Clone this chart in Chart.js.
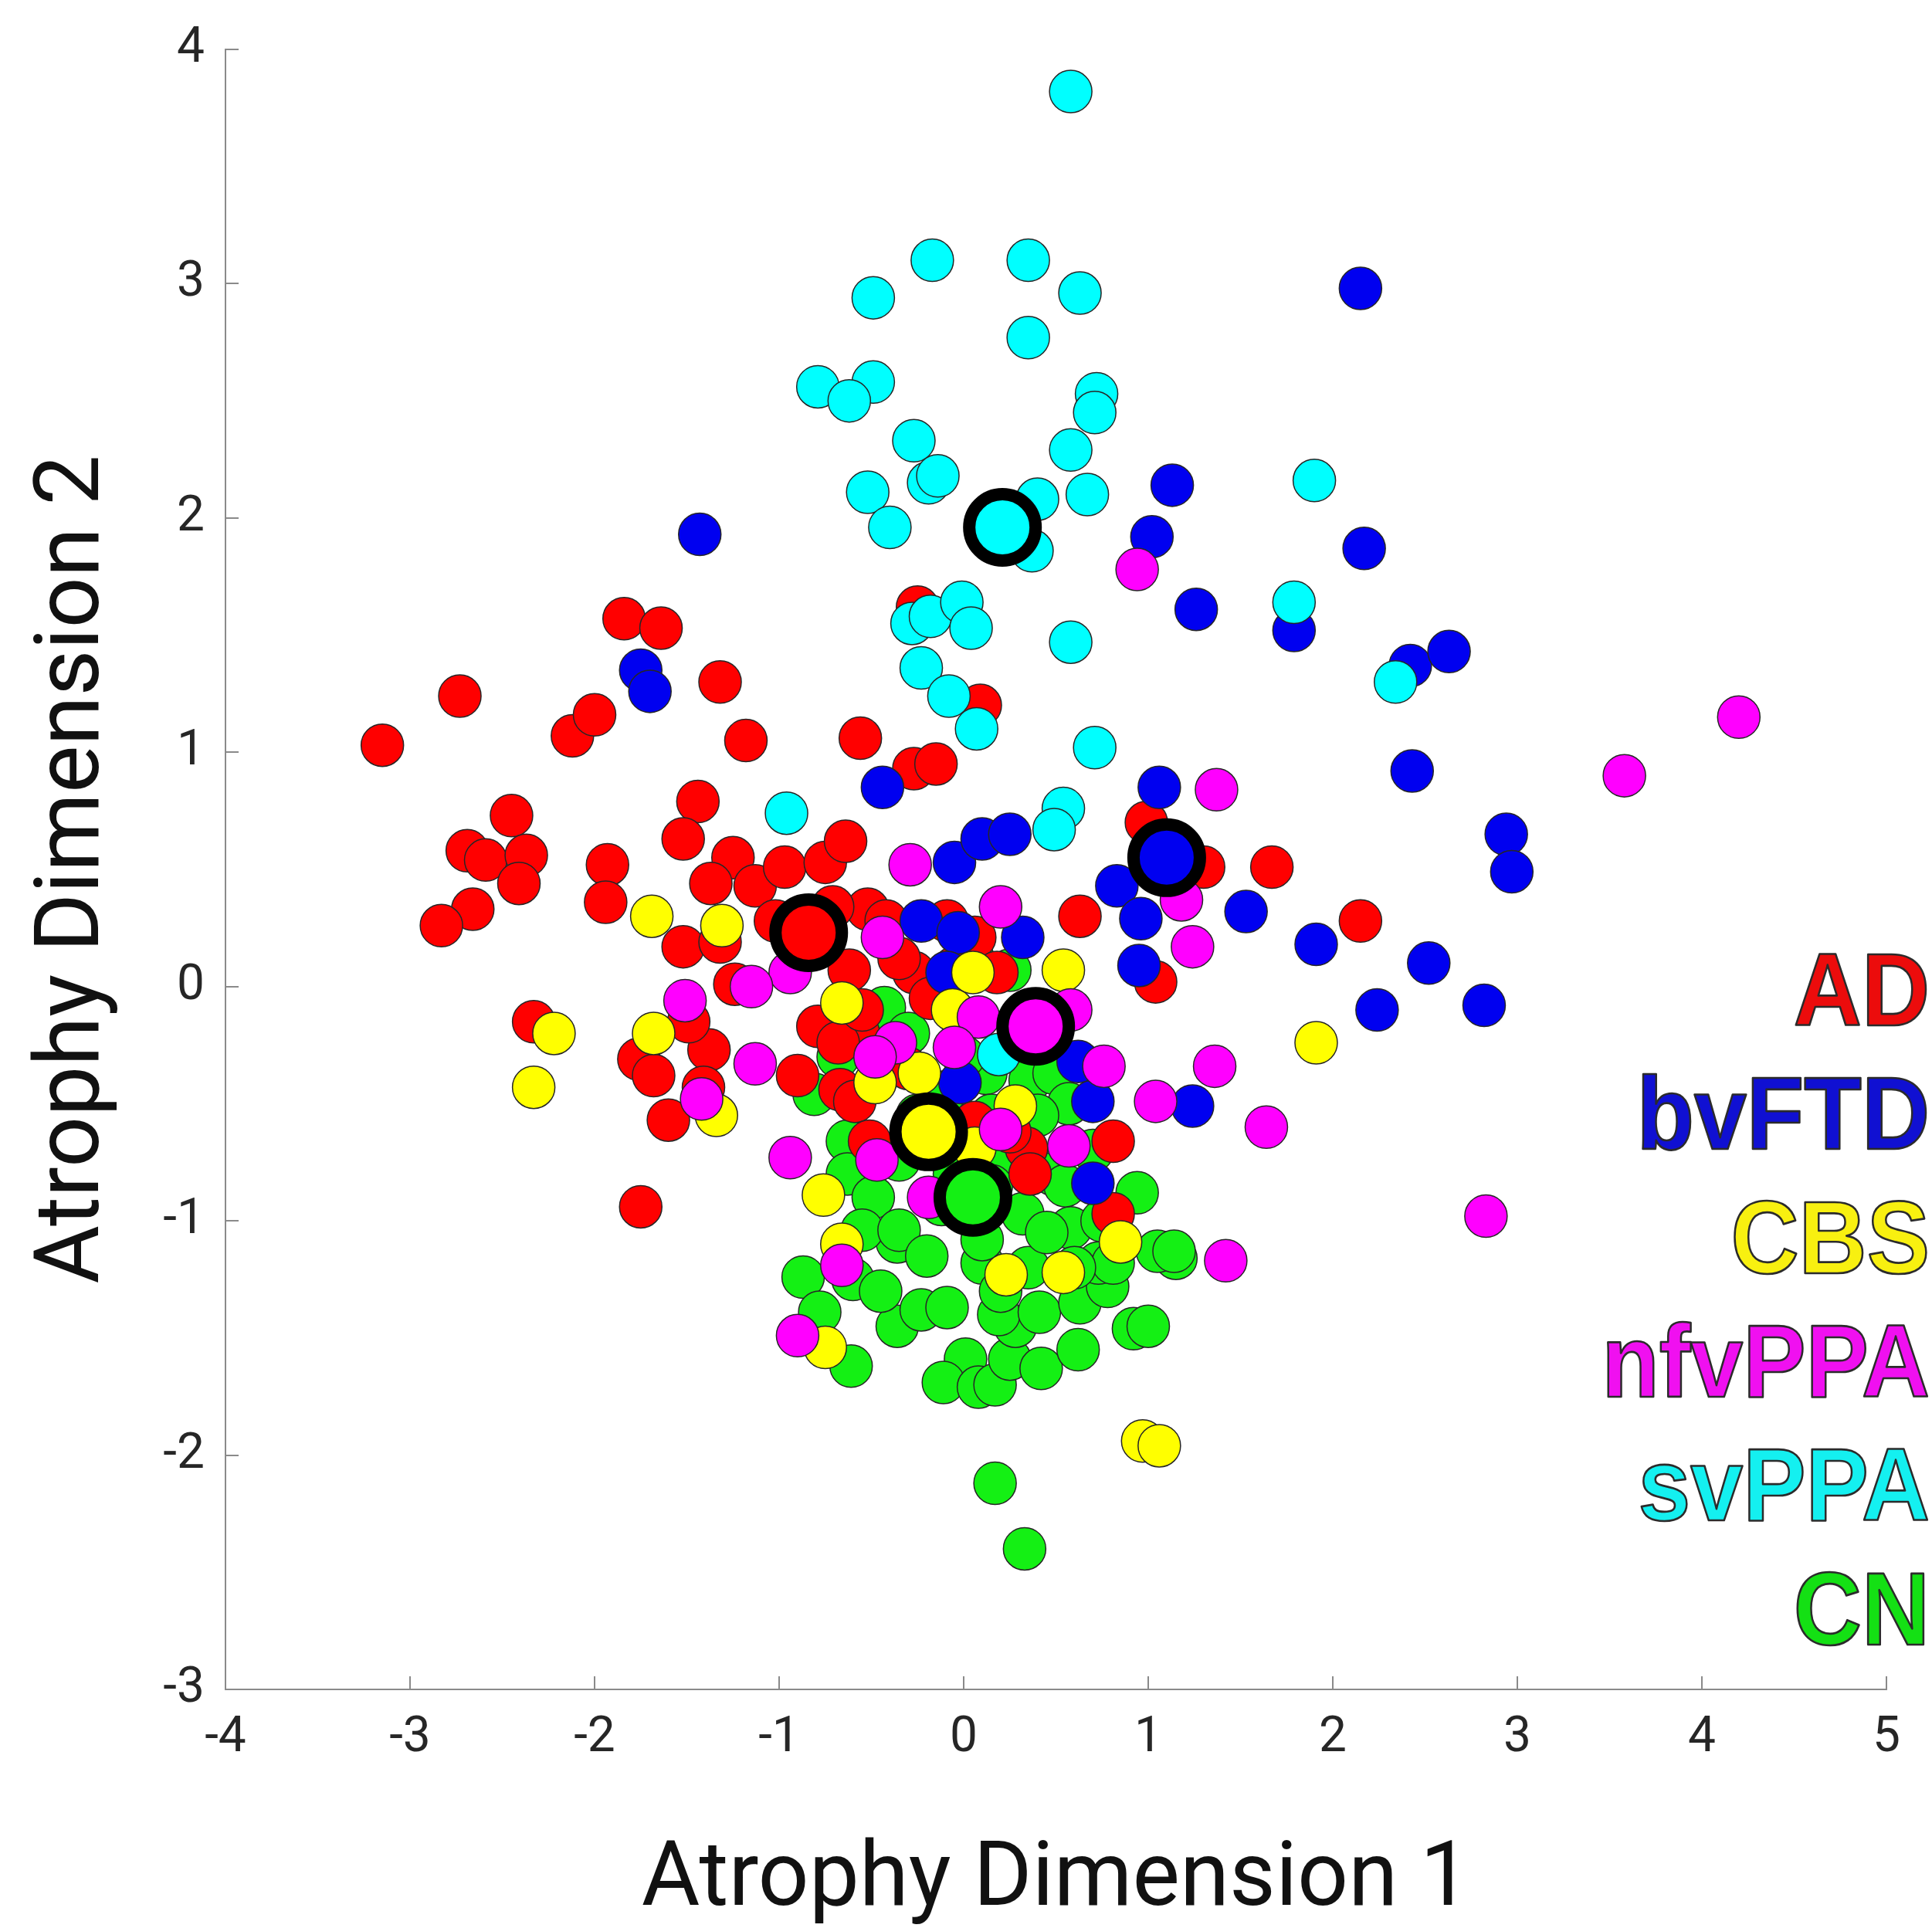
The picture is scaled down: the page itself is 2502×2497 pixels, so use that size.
<!DOCTYPE html>
<html>
<head>
<meta charset="utf-8">
<script src="https://cdn.jsdelivr.net/npm/chart.js@4.4.1/dist/chart.umd.min.js"></script>
<style>
  html, body { margin: 0; padding: 0; background: #ffffff; }
  #wrap { width: 2502px; height: 2497px; position: relative; }
</style>
</head>
<body>
<div id="wrap"><canvas id="c" width="2502" height="2497" style="width:2502px;height:2497px"></canvas></div>
<script>
// ---------------- DATA ----------------
const groupNames = ['AD', 'bvFTD', 'CBS', 'nfvPPA', 'svPPA', 'CN'];

const AD = [[-3.15,1.03],[-2.73,1.24],[-2.12,1.07],[-2.00,1.16],[-1.84,1.57],[-1.64,1.53],[-1.32,1.30],[-1.18,1.05],
  [-0.56,1.06],[-0.27,0.93],[-0.15,0.95],[-0.25,1.62],[0.09,1.20],[-2.45,0.73],[-2.69,0.58],[-2.59,0.54],[-2.37,0.56],
  [-2.41,0.44],[-2.66,0.33],[-2.83,0.26],[-1.93,0.52],[-1.94,0.36],[-1.44,0.79],[-1.52,0.63],[-1.25,0.55],[-1.37,0.44],
  [-1.13,0.43],[-0.97,0.51],[-0.75,0.53],[-0.64,0.62],[-0.52,0.33],[-0.71,0.34],[-0.62,0.07],[-1.52,0.17],[-1.32,0.19],
  [-1.24,0.01],[-0.79,-0.17],[-1.38,-0.27],[-1.76,-0.31],[-1.68,-0.38],[-1.41,-0.43],[-1.60,-0.57],[-2.33,-0.15],
  [-0.90,-0.38],[-0.67,-0.44],[-1.49,-0.15],[-1.75,-0.94],[-1.02,0.28],[1.67,0.51],[1.30,0.51],[0.99,0.70],[0.63,0.30],
  [1.04,0.02],[2.15,0.28],[-0.27,0.06],[-0.09,0.28],[0.06,0.21],[0.18,0.06],[-0.18,-0.05],[-0.57,-0.20],[-0.68,-0.24],
  [-0.59,-0.49],[0.06,-0.58],[0.34,-0.69],[0.36,-0.80],[0.81,-0.66],[0.81,-0.97],[-0.51,-0.66],[-0.35,0.12],[-0.42,0.28],
  [-0.05,0.08],[-0.55,-0.10],[-0.30,-0.35],[0.25,-0.62]];

const bvFTD = [[2.15,2.98],[1.13,2.14],[1.02,1.92],[2.17,1.87],[1.26,1.61],[1.79,1.52],[2.42,1.37],[2.63,1.43],[2.43,0.92],
  [2.94,0.65],[2.97,0.49],[1.06,0.85],[0.83,0.43],[0.96,0.29],[1.53,0.32],[1.91,0.18],[2.52,0.10],[0.95,0.09],[2.24,-0.10],
  [2.82,-0.08],[-1.43,1.93],[-1.75,1.35],[-1.70,1.26],[-0.44,0.85],[-0.05,0.53],[0.10,0.63],[0.25,0.65],[-0.23,0.28],
  [-0.03,0.23],[0.32,0.21],[-0.09,0.06],[-0.02,-0.41],[0.62,-0.32],[0.70,-0.49],[1.24,-0.51],[0.70,-0.84]];

const CBS = [[-1.69,0.30],[-1.31,0.26],[-0.66,-0.07],[-1.68,-0.20],[-2.22,-0.20],[-2.33,-0.43],[-1.34,-0.55],[0.05,0.06],
  [0.54,0.07],[-0.06,-0.10],[-0.24,-0.37],[-0.48,-0.41],[0.28,-0.51],[-0.76,-0.89],[0.06,-0.69],[0.85,-1.09],[0.23,-1.23],
  [0.54,-1.22],[1.91,-0.24],[-0.66,-1.10],[-0.75,-1.54],[0.97,-1.94],[1.06,-1.96]];

const nfvPPA = [[0.94,1.78],[4.20,1.15],[3.58,0.90],[1.37,0.84],[2.83,-0.98],[1.42,-1.17],[1.64,-0.60],[1.36,-0.34],
  [1.04,-0.49],[1.18,0.37],[1.24,0.17],[-0.29,0.52],[0.20,0.34],[-0.44,0.21],[-0.94,0.06],[0.58,-0.10],[0.08,-0.13],
  [-0.05,-0.26],[-0.37,-0.24],[-0.48,-0.30],[0.76,-0.34],[0.20,-0.61],[0.57,-0.68],[-0.47,-0.74],[-0.94,-0.73],
  [-0.19,-0.90],[-0.66,-1.19],[-1.15,0.00],[-1.51,-0.06],[-1.13,-0.33],[-1.42,-0.48],[-0.90,-1.49]];

const svPPA = [[0.58,3.82],[-0.17,3.10],[-0.49,2.94],[0.35,3.10],[0.63,2.96],[0.35,2.77],[-0.79,2.56],[-0.49,2.58],
  [-0.62,2.50],[0.72,2.53],[0.71,2.45],[-0.27,2.33],[-0.19,2.15],[-0.14,2.18],[0.58,2.29],[-0.52,2.11],[-0.40,1.96],
  [0.40,2.08],[0.67,2.10],[1.90,2.16],[1.79,1.64],[-0.28,1.55],[-0.18,1.58],[-0.01,1.64],[0.04,1.53],[0.58,1.47],
  [-0.23,1.36],[-0.08,1.24],[0.07,1.10],[0.71,1.02],[2.34,1.30],[-0.96,0.74],[0.54,0.76],[0.49,0.67],[0.19,-0.29],[0.37,1.86]];

const CN = [[0.17,-2.12],[0.33,-2.40],[-0.87,-1.24],[-0.78,-1.39],[-0.61,-1.62],[-0.36,-1.45],[-0.23,-1.38],[-0.09,-1.37],
  [0.01,-1.59],[-0.11,-1.69],[0.08,-1.71],[0.17,-1.70],[0.25,-1.59],[0.28,-1.45],[0.19,-1.40],[0.41,-1.39],[0.42,-1.63],
  [0.62,-1.55],[0.63,-1.35],[0.78,-1.28],[0.92,-1.46],[1.00,-1.45],[1.15,-1.16],[1.05,-1.13],[0.73,-1.18],[0.10,-1.18],
  [-0.36,-1.09],[-0.43,-0.09],[0.12,-0.37],[0.36,-0.40],[0.49,-0.37],[0.57,-0.50],[-0.63,-0.66],[-0.63,-0.80],[-0.49,-0.90],
  [-0.55,-1.04],[-0.35,-1.04],[-0.12,-0.93],[0.10,-1.08],[0.32,-0.97],[0.58,-1.03],[0.94,-0.88],[1.14,-1.13],[0.81,-1.18],
  [0.48,-0.80],[-0.35,-0.74],[0.23,-0.71],[0.25,0.07],[-0.68,-0.30],[-0.81,-0.46],[-0.25,-0.55],[-0.10,-0.45],[0.00,-0.30],
  [0.15,-0.55],[0.40,-0.55],[0.70,-0.70],[0.55,-0.85],[0.35,-1.20],[-0.20,-1.15],[-0.05,-0.80],[0.15,-0.85],[-0.30,-0.20],
  [0.05,0.12],[0.45,-1.05],[0.75,-1.00],[-0.60,-1.25],[-0.45,-1.30],[0.60,-1.20],[0.20,-1.30]];

// group means (large markers with black rings)
const meanX = [-0.84, 1.10, -0.19, 0.39, 0.21, 0.05];
const meanY = [0.23, 0.55, -0.62, -0.17, 1.96, -0.90];

const xTickValues = [-4, -3, -2, -1, 0, 1, 2, 3, 4, 5];
const yTickValues = [-3, -2, -1, 0, 1, 2, 3, 4];

// ---------------- STYLE ----------------
const pointColors = {
  AD: '#ff0000', bvFTD: '#0000f0', CBS: '#ffff00',
  nfvPPA: '#ff00ff', svPPA: '#00ffff', CN: '#14f014'
};
const legendColors = {
  AD: '#ec0c0c', bvFTD: '#1010d2', CBS: '#f8f010',
  nfvPPA: '#f010f0', svPPA: '#14f0f0', CN: '#14e014'
};
const seriesByName = { AD, bvFTD, CBS, nfvPPA, svPPA, CN };

const toXY = arr => arr.map(p => ({ x: p[0], y: p[1] }));

// datasets: index 0 is drawn on top in Chart.js
const datasets = [];
groupNames.forEach((g, i) => {
  datasets.push({
    label: g + ' mean',
    data: [{ x: meanX[i], y: meanY[i] }],
    pointRadius: 43,
    pointBorderWidth: 16,
    pointBackgroundColor: pointColors[g],
    pointBorderColor: '#000000',
    showLine: false
  });
});
['svPPA', 'nfvPPA', 'CBS', 'bvFTD', 'AD', 'CN'].forEach(g => {
  datasets.push({
    label: g,
    data: toXY(seriesByName[g]),
    pointRadius: 27.5,
    pointBorderWidth: 1.5,
    pointBackgroundColor: pointColors[g],
    pointBorderColor: '#262626',
    showLine: false
  });
});

// inward tick marks, drawn from the library's scales
const inwardTicks = {
  id: 'inwardTicks',
  beforeDatasetsDraw(chart) {
    const { ctx, scales: { x, y }, chartArea } = chart;
    ctx.save();
    ctx.strokeStyle = '#8a8a8a';
    ctx.lineWidth = 2;
    const len = 17;
    x.ticks.forEach(t => {
      const px = Math.round(x.getPixelForValue(t.value));
      ctx.beginPath();
      ctx.moveTo(px, chartArea.bottom);
      ctx.lineTo(px, chartArea.bottom - len);
      ctx.stroke();
    });
    y.ticks.forEach(t => {
      const py = Math.round(y.getPixelForValue(t.value));
      ctx.beginPath();
      ctx.moveTo(chartArea.left, py);
      ctx.lineTo(chartArea.left + len, py);
      ctx.stroke();
    });
    ctx.restore();
  }
};

// text legend on the right
const textLegend = {
  id: 'textLegend',
  afterDraw(chart) {
    const ctx = chart.ctx;
    ctx.save();
    ctx.font = 'bold 122px "Liberation Sans", Arial, sans-serif';
    ctx.textAlign = 'right';
    ctx.textBaseline = 'alphabetic';
    ctx.lineJoin = 'round';
    const right = 2499;
    const firstBaseline = 1328;
    const step = 160.3;
    groupNames.forEach((g, i) => {
      ctx.save();
      ctx.translate(right, firstBaseline + i * step);
      ctx.scale(1, 1.1);
      ctx.fillStyle = legendColors[g];
      ctx.fillText(g, 0, 0);
      ctx.lineWidth = 2.5;
      ctx.strokeStyle = '#2b2b2b';
      ctx.strokeText(g, 0, 0);
      ctx.restore();
    });
    ctx.restore();
  }
};

new Chart(document.getElementById('c'), {
  type: 'scatter',
  data: { datasets },
  options: {
    responsive: false,
    animation: false,
    devicePixelRatio: 1,
    events: [],
    layout: { padding: { left: 0, top: 64, right: 50, bottom: 0 } },
    plugins: { legend: { display: false }, tooltip: { enabled: false } },
    scales: {
      x: {
        type: 'linear', position: 'bottom', min: -4, max: 5,
        afterBuildTicks(s) { s.ticks = xTickValues.map(v => ({ value: v })); },
        afterFit(s) { s.height = 309; s.paddingLeft = 0; s.paddingRight = 0; },
        grid: { display: false, drawTicks: false },
        border: { display: true, color: '#8a8a8a', width: 2 },
        ticks: { padding: 26, color: '#262626', font: { family: 'Roboto', size: 64 }, maxRotation: 0, autoSkip: false },
        title: { display: true, text: 'Atrophy Dimension 1', color: '#111111',
                 font: { family: 'Roboto', size: 116, lineHeight: 1 }, padding: { top: 0, bottom: 1 } }
      },
      y: {
        type: 'linear', position: 'left', min: -3, max: 4,
        afterBuildTicks(s) { s.ticks = yTickValues.map(v => ({ value: v })); },
        afterFit(s) { s.width = 292; s.paddingTop = 0; s.paddingBottom = 0; },
        grid: { display: false, drawTicks: false },
        border: { display: true, color: '#8a8a8a', width: 2 },
        ticks: { padding: 27, color: '#262626', font: { family: 'Roboto', size: 64 }, autoSkip: false },
        title: { display: true, text: 'Atrophy Dimension 2', color: '#111111',
                 font: { family: 'Roboto', size: 116, lineHeight: 1 }, padding: { top: 40, bottom: 0 } }
      }
    }
  },
  plugins: [inwardTicks, textLegend]
});
</script>
</body>
</html>
